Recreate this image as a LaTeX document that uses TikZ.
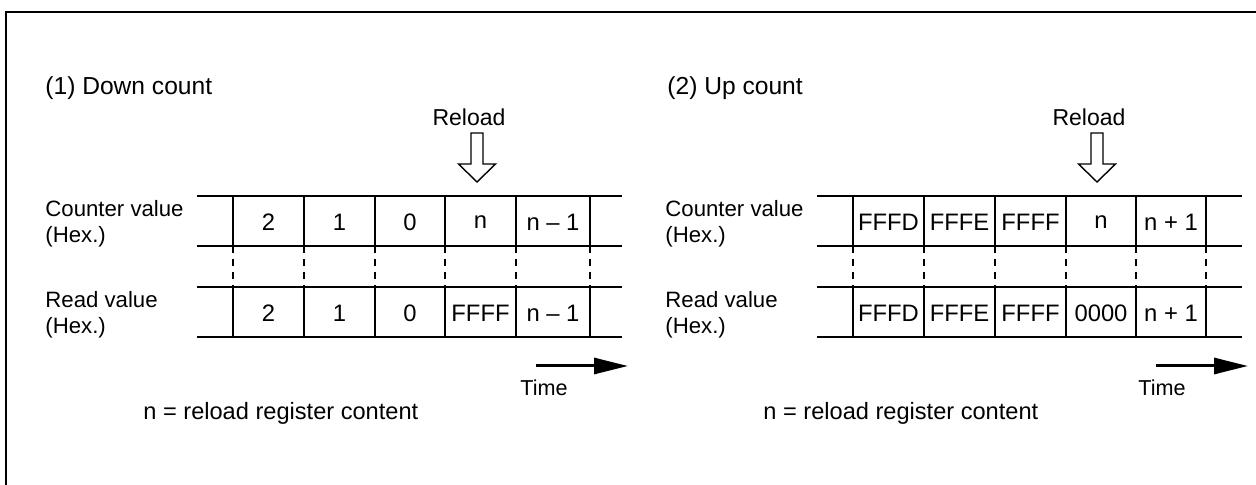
\documentclass[tikz,border=0pt]{standalone}
\usepackage{fontspec}
\setmainfont{Liberation Sans}
\usetikzlibrary{arrows.meta}
\tikzset{
  frameline/.style={line width=1.2pt},
  rowline/.style={line width=1pt},
  sepline/.style={line width=1pt},
  dashline/.style={line width=0.7pt, dash pattern=on 3.5pt off 3pt},
  txt/.style={inner sep=0pt, font=\fontsize{11.5}{12.5}\selectfont},
  head/.style={txt, anchor=west, font=\fontsize{12.3}{14}\selectfont},
  lbl/.style={txt, anchor=west, align=left, font=\fontsize{11.1}{13}\selectfont},
  cell/.style={txt, font=\fontsize{11.9}{13}\selectfont},
  timelbl/.style={txt, font=\fontsize{10.8}{12}\selectfont},
  note/.style={txt, anchor=west, font=\fontsize{11.8}{13}\selectfont},
  hollowarrow/.style={line width=0.7pt, fill=white},
  timearrow/.style={line width=1.5pt, -{Triangle[length=17pt,width=8pt]}},
  pics/reloadarrow/.style={code={
    \draw[hollowarrow] (0,0) -- ++(-18.5,-18) -- ++(12.5,0) -- ++(0,-31) -- ++(12,0) -- ++(0,31) -- ++(12.5,0) -- cycle;
  }}
}
\begin{document}
\begin{tikzpicture}[x=0.5pt,y=-0.5pt]
\useasboundingbox (0,0) rectangle (1256,485);
% frame (top and left visible)
\draw[frameline] (6,490) -- (6,12) -- (1262,12);

% ---------------- Left panel ----------------
\node[head] (h1) at (45,88) {(1) Down count};
\node[txt] (rl1) at (469,117) {Reload};
\pic at (477,182) {reloadarrow};
\node[lbl] (cv1) at (45,224) {Counter value\\(Hex.)};
\node[lbl] (rv1) at (45,315) {Read value\\(Hex.)};
\foreach \y in {196,246,287,337} \draw[rowline] (197,\y) -- (622,\y);
\foreach \x in {233,304,375,445,516,590} {
  \draw[sepline] (\x,196) -- (\x,246);
  \draw[sepline] (\x,287) -- (\x,337);
  \draw[dashline] (\x,246) -- (\x,287);
}
\foreach \t [count=\i] in {2,1,0,n,n – 1} {
  \pgfmathsetmacro{\cx}{{268.5,339.5,410,480.5,553}[\i-1]}
  \node[cell] (c1-\i) at (\cx,222) {\t};
}
\foreach \t [count=\i] in {2,1,0,FFFF,n – 1} {
  \pgfmathsetmacro{\cx}{{268.5,339.5,410,480.5,553}[\i-1]}
  \node[cell] (r1-\i) at (\cx,313) {\t};
}
\coordinate (ta1) at (536,366);
\coordinate (tb1) at (628,366);
\draw[timearrow] (ta1) -- (tb1);
\node[timelbl] (time1) at (544,388) {Time};
\node[note] (n1) at (143,413) {n = reload register content};

% ---------------- Right panel ----------------
\node[head] (h2) at (667,88) {(2) Up count};
\node[txt] (rl2) at (1089,117) {Reload};
\pic at (1097,182) {reloadarrow};
\node[lbl] (cv2) at (665,224) {Counter value\\(Hex.)};
\node[lbl] (rv2) at (665,315) {Read value\\(Hex.)};
\foreach \y in {196,246,287,337} \draw[rowline] (817,\y) -- (1242,\y);
\foreach \x in {853,924,995,1066,1136,1206} {
  \draw[sepline] (\x,196) -- (\x,246);
  \draw[sepline] (\x,287) -- (\x,337);
  \draw[dashline] (\x,246) -- (\x,287);
}
\foreach \t [count=\i] in {FFFD,FFFE,FFFF,n,n + 1} {
  \pgfmathsetmacro{\cx}{{888.5,959.5,1030.5,1101,1171}[\i-1]}
  \node[cell] (c2-\i) at (\cx,222) {\t};
}
\foreach \t [count=\i] in {FFFD,FFFE,FFFF,0000,n + 1} {
  \pgfmathsetmacro{\cx}{{888.5,959.5,1030.5,1101,1171}[\i-1]}
  \node[cell] (r2-\i) at (\cx,313) {\t};
}
\coordinate (ta2) at (1156,366);
\coordinate (tb2) at (1248,366);
\draw[timearrow] (ta2) -- (tb2);
\node[timelbl] (time2) at (1162,388) {Time};
\node[note] (n2) at (763,413) {n = reload register content};
\end{tikzpicture}
\end{document}
